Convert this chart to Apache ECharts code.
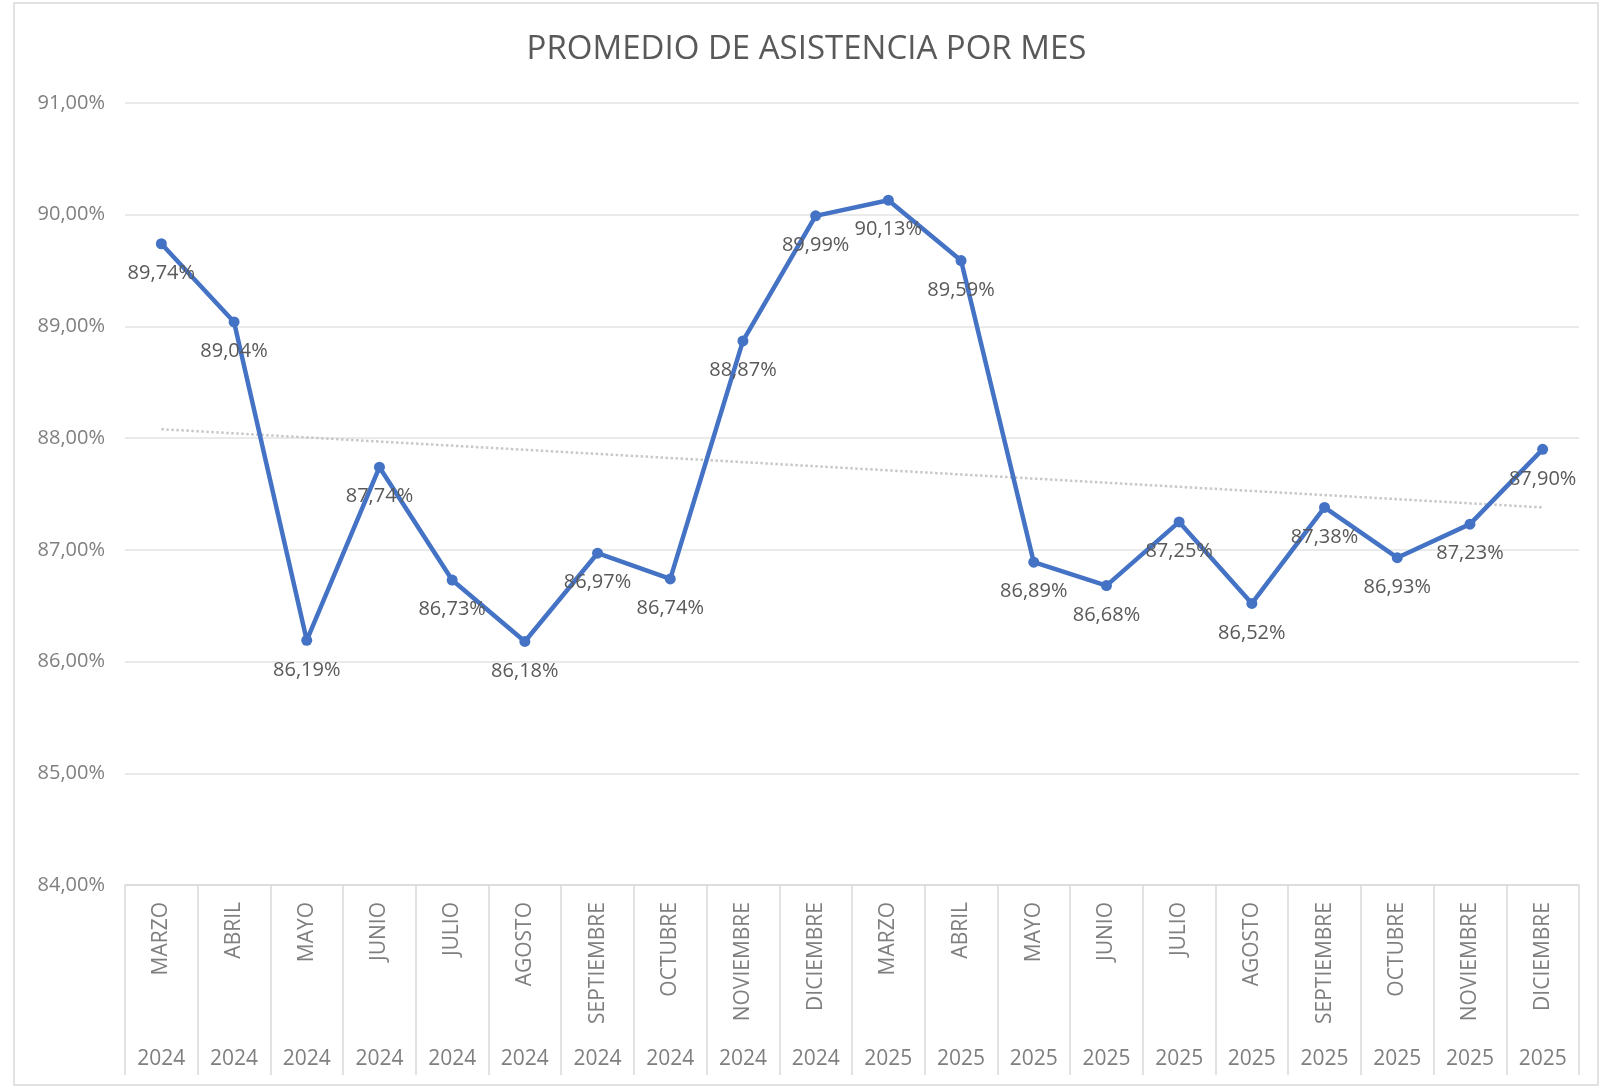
<!DOCTYPE html>
<html>
<head>
<meta charset="utf-8">
<script src="https://cdn.jsdelivr.net/npm/echarts@6/dist/echarts.min.js"></script>
<style>
  html, body { margin: 0; padding: 0; background: #fff; }
  #main { width: 1613px; height: 1088px; }
</style>
</head>
<body>
<div id="main"></div>
<script>
// meses y años del eje de categorías (dos niveles)
const months = ['MARZO', 'ABRIL', 'MAYO', 'JUNIO', 'JULIO', 'AGOSTO', 'SEPTIEMBRE', 'OCTUBRE', 'NOVIEMBRE', 'DICIEMBRE',
  'MARZO', 'ABRIL', 'MAYO', 'JUNIO', 'JULIO', 'AGOSTO', 'SEPTIEMBRE', 'OCTUBRE', 'NOVIEMBRE', 'DICIEMBRE']
const years = ['2024', '2024', '2024', '2024', '2024', '2024', '2024', '2024', '2024', '2024',
  '2025', '2025', '2025', '2025', '2025', '2025', '2025', '2025', '2025', '2025']
// promedio de asistencia (%)
const asistencia = [89.74, 89.04, 86.19, 87.74, 86.73, 86.18, 86.97, 86.74, 88.87, 89.99,
  90.13, 89.59, 86.89, 86.68, 87.25, 86.52, 87.38, 86.93, 87.23, 87.90]
// línea de tendencia: extremos
const tendencia = [88.08, null, null, null, null, null, null, null, null, null,
  null, null, null, null, null, null, null, null, null, 87.38]
const yTicks = [84, 85, 86, 87, 88, 89, 90, 91]

const fmt = v => v.toFixed(2).replace('.', ',') + '%'
const font = '"Open Sans", "Noto Sans", sans-serif'

const chart = echarts.init(document.getElementById('main'))
chart.setOption({
  animation: false,
  textStyle: { fontFamily: font },
  title: {
    text: 'PROMEDIO DE ASISTENCIA POR MES',
    left: 'center',
    top: 28,
    textStyle: { fontSize: 33, fontWeight: 'normal', color: '#595959', fontFamily: font }
  },
  graphic: [{
    type: 'rect',
    shape: { x: 14, y: 3, width: 1584, height: 1082 },
    style: { fill: 'none', stroke: '#d9d9d9', lineWidth: 1.5 },
    silent: true
  }],
  grid: { left: 125, right: 34, top: 103, bottom: 203 },
  xAxis: [
    {
      type: 'category',
      data: months,
      boundaryGap: true,
      axisLine: { lineStyle: { color: '#d9d9d9', width: 1.5 } },
      axisTick: { show: true, interval: 0, length: 190, lineStyle: { color: '#d9d9d9', width: 1.5 } },
      axisLabel: { interval: 0, rotate: 90, margin: 17, fontSize: 21, color: '#7f7f7f' },
      splitLine: { show: false }
    },
    {
      type: 'category',
      position: 'bottom',
      data: years,
      boundaryGap: true,
      axisLine: { show: false },
      axisTick: { show: false },
      axisLabel: { interval: 0, margin: 164, fontSize: 21, color: '#7f7f7f' },
      splitLine: { show: false }
    }
  ],
  yAxis: {
    type: 'value',
    min: yTicks[0],
    max: yTicks[yTicks.length - 1],
    interval: 1,
    axisLine: { show: false },
    axisTick: { show: false },
    axisLabel: { formatter: fmt, fontSize: 20, color: '#7f7f7f', margin: 20 },
    splitLine: { lineStyle: { color: '#e3e3e3', width: 1.5 } }
  },
  series: [
    {
      name: 'Tendencia',
      type: 'line',
      data: tendencia,
      connectNulls: true,
      symbol: 'none',
      lineStyle: { color: '#c8c8c8', width: 2.5, type: 'dotted' },
      z: 1
    },
    {
      name: 'Asistencia',
      type: 'line',
      data: asistencia,
      symbol: 'circle',
      symbolSize: 11,
      itemStyle: { color: '#4472c4' },
      lineStyle: { color: '#4472c4', width: 4.5 },
      label: {
        show: true,
        position: 'bottom',
        distance: 14,
        formatter: p => fmt(p.value),
        fontSize: 20,
        color: '#595959'
      },
      z: 3
    }
  ]
})
</script>
</body>
</html>
